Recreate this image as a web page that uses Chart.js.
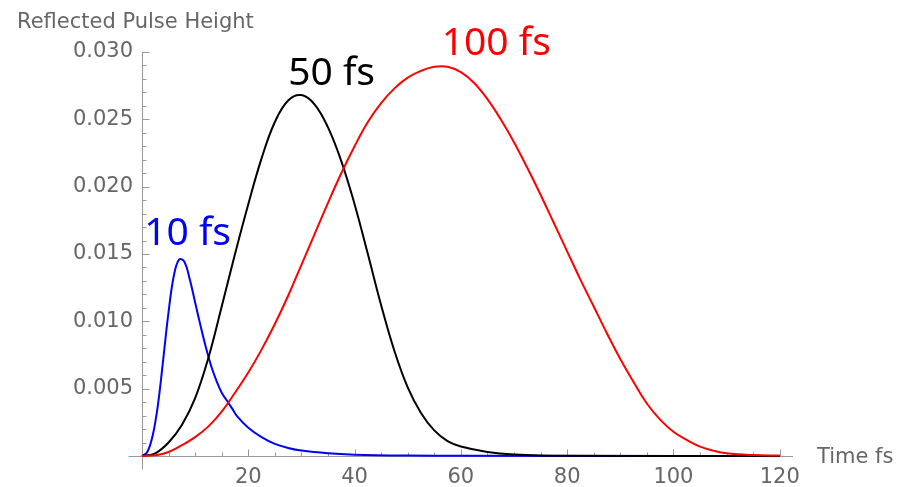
<!DOCTYPE html>
<html>
<head>
<meta charset="utf-8">
<script src="https://cdn.jsdelivr.net/npm/chart.js@4.4.1/dist/chart.umd.min.js"></script>
<style>
  html, body { margin: 0; padding: 0; background: #fff; }
  #chart { display: block; }
</style>
</head>
<body>
<canvas id="chart" width="906" height="487"></canvas>
<script>
// Reflected pulse height vs time

// 10 fs pulse
const time10 = [0, 1, 2, 3, 4, 5, 6, 7, 8, 9, 10, 11, 12, 13, 14, 15, 16, 17, 18, 20, 22.5, 25, 27.5, 30, 35, 40, 50, 60, 120];
const height10 = [0, 0.0003, 0.0015, 0.0038, 0.0072, 0.0107, 0.0134, 0.0146, 0.0144, 0.0131, 0.0114, 0.0097, 0.0081, 0.0067, 0.0056, 0.0047, 0.0041, 0.0035, 0.0029, 0.0021, 0.0014, 0.0009, 0.0006, 0.0004, 0.0002, 0.0001, 0.00003, 0.00001, 0];

// 50 fs pulse
const time50 = [0, 2.5, 5, 7.5, 10, 12.5, 15, 17.5, 20, 22.5, 25, 27.5, 30, 32.5, 35, 37.5, 40, 42.5, 45, 47.5, 50, 52.5, 55, 57.5, 60, 65, 70, 80, 120];
const height50 = [0, 0.0002, 0.0010, 0.0023, 0.0043, 0.0073, 0.0111, 0.0150, 0.0187, 0.0221, 0.0248, 0.0264, 0.0268, 0.0261, 0.0244, 0.0219, 0.0187, 0.0150, 0.0112, 0.0078, 0.0051, 0.0032, 0.0019, 0.0011, 0.0007, 0.0003, 0.00012, 0.00002, 0];

// 100 fs pulse
const time100 = [0, 2.5, 5, 7.5, 10, 12.5, 15, 17.5, 20, 22.5, 25, 27.5, 30, 32.5, 35, 37.5, 40, 42.5, 45, 47.5, 50, 52.5, 55, 57.5, 60, 62.5, 65, 67.5, 70, 72.5, 75, 77.5, 80, 82.5, 85, 87.5, 90, 92.5, 95, 97.5, 100, 102.5, 105, 107.5, 110, 115, 120];
const height100 = [0, 0.00005, 0.0003, 0.0008, 0.0014, 0.0022, 0.0033, 0.0047, 0.0062, 0.0079, 0.0098, 0.0119, 0.0142, 0.0165, 0.0188, 0.0210, 0.0230, 0.0248, 0.0262, 0.0273, 0.0281, 0.0286, 0.0289, 0.0289, 0.0285, 0.0277, 0.0265, 0.0250, 0.0233, 0.0214, 0.0194, 0.0173, 0.0152, 0.0131, 0.0111, 0.0091, 0.0072, 0.0055, 0.0039, 0.0027, 0.0018, 0.0012, 0.0007, 0.0004, 0.0002, 0.00007, 0.00003];

const xTicks = [20, 40, 60, 80, 100, 120];
const yTicks = [0.005, 0.010, 0.015, 0.020, 0.025, 0.030];

// curve labels, placed in data coordinates (left edge, baseline)
const curveLabels = ['10 fs', '50 fs', '100 fs'];
const curveLabelX = [0.4, 27.5, 56.4];
const curveLabelY = [0.01567, 0.02755, 0.02978];
const curveColors = ['#0000ff', '#000000', '#ff0000'];

const axisColor = '#999999';
const textColor = '#666666';
const tickFont = { family: '"DejaVu Sans", sans-serif', size: 21 };

function toPoints(xs, ys) {
    return xs.map((x, i) => ({ x: x, y: ys[i] }));
}

// Mathematica-style axes: inward ticks with minor marks
const axesPlugin = {
    id: 'mmaAxes',
    beforeDatasetsDraw(chart) {
        const ctx = chart.ctx;
        const xs = chart.scales.x;
        const ys = chart.scales.y;
        const x0 = Math.round(xs.getPixelForValue(0)) + 0.5;
        const y0 = Math.round(ys.getPixelForValue(0)) + 0.5;
        ctx.save();
        ctx.strokeStyle = axisColor;
        ctx.lineWidth = 1;
        ctx.beginPath();
        // y axis
        ctx.moveTo(x0, ys.getPixelForValue(0.030));
        ctx.lineTo(x0, y0 + 13);
        // x axis
        ctx.moveTo(x0 - 14, y0);
        ctx.lineTo(xs.right, y0);
        // y ticks every 0.001
        for (let i = 1; i <= 30; i++) {
            const py = Math.round(ys.getPixelForValue(i / 1000)) + 0.5;
            const len = i % 5 === 0 ? 7 : 4;
            ctx.moveTo(x0, py);
            ctx.lineTo(x0 + len, py);
        }
        // x ticks every 5
        for (let i = 1; i <= 24; i++) {
            const v = i * 5;
            const px = Math.round(xs.getPixelForValue(v)) + 0.5;
            const len = v % 20 === 0 ? 7 : 4;
            ctx.moveTo(px, y0);
            ctx.lineTo(px, y0 - len);
        }
        ctx.stroke();
        ctx.restore();
    },
    afterDraw(chart) {
        const ctx = chart.ctx;
        const xs = chart.scales.x;
        const ys = chart.scales.y;
        ctx.save();
        // axis titles
        ctx.fillStyle = textColor;
        ctx.font = '21px "DejaVu Sans", sans-serif';
        ctx.textAlign = 'left';
        ctx.textBaseline = 'alphabetic';
        ctx.fillText('Reflected Pulse Height', 17, 28);
        ctx.fillText('Time fs', 817, 463);
        // curve labels
        ctx.font = '39px "Noto Sans", sans-serif';
        curveLabels.forEach((txt, i) => {
            ctx.fillStyle = curveColors[i];
            ctx.fillText(txt, xs.getPixelForValue(curveLabelX[i]), ys.getPixelForValue(curveLabelY[i]));
        });
        ctx.restore();
    }
};

const lineStyle = {
    borderWidth: 2,
    pointRadius: 0,
    fill: false,
    tension: 0.4,
    clip: false
};

new Chart(document.getElementById('chart'), {
    type: 'line',
    data: {
        datasets: [
            { ...lineStyle, label: '100 fs', data: toPoints(time100, height100), borderColor: curveColors[2] },
            { ...lineStyle, label: '50 fs', data: toPoints(time50, height50), borderColor: curveColors[1] },
            { ...lineStyle, label: '10 fs', data: toPoints(time10, height10), borderColor: curveColors[0] }
        ]
    },
    options: {
        responsive: false,
        animation: false,
        devicePixelRatio: 1,
        layout: {
            padding: { left: 0, right: 113, top: 52, bottom: 0 }
        },
        plugins: {
            legend: { display: false },
            tooltip: { enabled: false }
        },
        scales: {
            x: {
                type: 'linear',
                min: 0,
                max: 122.5,
                afterFit: s => { s.height = 31; },
                afterBuildTicks: s => { s.ticks = xTicks.map(v => ({ value: v })); },
                grid: { display: false, drawTicks: false },
                border: { display: false },
                ticks: {
                    font: tickFont,
                    color: textColor,
                    padding: 9,
                    maxRotation: 0,
                    autoSkip: false,
                    callback: v => String(v)
                }
            },
            y: {
                type: 'linear',
                min: 0,
                max: 0.030,
                afterFit: s => { s.width = 142; },
                afterBuildTicks: s => { s.ticks = yTicks.map(v => ({ value: v })); },
                grid: { display: false, drawTicks: false },
                border: { display: false },
                ticks: {
                    font: tickFont,
                    color: textColor,
                    padding: 9,
                    autoSkip: false,
                    callback: v => Number(v).toFixed(3)
                }
            }
        }
    },
    plugins: [axesPlugin]
});
</script>
</body>
</html>
